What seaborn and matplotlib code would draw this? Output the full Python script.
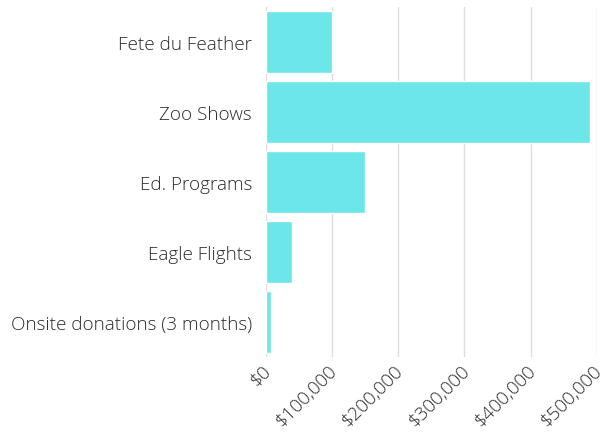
import matplotlib
matplotlib.use("Agg")
import matplotlib.pyplot as plt
import matplotlib.ticker as mticker
import matplotlib.transforms as mtransforms
import seaborn as sns
import pandas as pd

categories = ["Fete du Feather", "Zoo Shows", "Ed. Programs", "Eagle Flights", "Onsite donations (3 months)"]
revenue = [100000, 490000, 150000, 40000, 8000]
x_ticks = [0, 100000, 200000, 300000, 400000, 500000]

df = pd.DataFrame({"event": categories, "revenue": revenue})

sns.set_style("white")
plt.rcParams["font.family"] = ["Open Sans", "DejaVu Sans"]

fig, ax = plt.subplots(figsize=(6.07, 4.35), dpi=100)
fig.subplots_adjust(left=0.438, right=0.983, top=0.982, bottom=0.177)

sns.barplot(data=df, x="revenue", y="event", orient="h", color="#6ce6e8",
            saturation=1, width=0.886, ax=ax)

ax.set_xlim(0, 500000)
ax.set_ylim(4.5, -0.5)
ax.set_xticks(x_ticks)
ax.xaxis.set_major_formatter(mticker.StrMethodFormatter("${x:,.0f}"))
ax.grid(axis="x", color="#dddddd", linewidth=1)
ax.set_axisbelow(True)
for s in ax.spines.values():
    s.set_visible(False)
ax.tick_params(length=0, colors="#2b2b2b", labelsize=13.6)
ax.tick_params(axis="y", pad=10)
ax.tick_params(axis="x", pad=3)
plt.setp(ax.get_xticklabels(), rotation=45, ha="right", rotation_mode="anchor", fontweight="light")
plt.setp(ax.get_yticklabels(), fontweight="light")

# nudge rotated tick labels a few pixels left so the last one stays inside
shift = mtransforms.ScaledTranslation(-4 / 100, 0, fig.dpi_scale_trans)
for lbl in ax.get_xticklabels():
    lbl.set_transform(lbl.get_transform() + shift)

ax.set_xlabel("")
ax.set_ylabel("")

fig.savefig("out.png", dpi=100)
